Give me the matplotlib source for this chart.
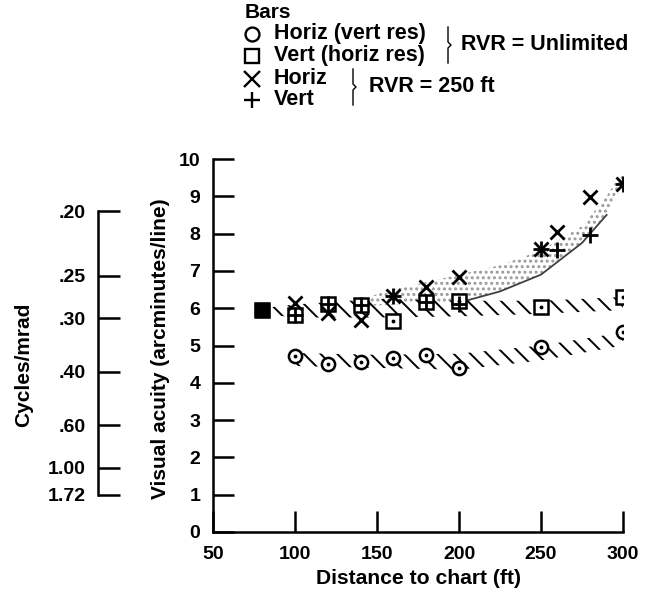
import matplotlib
matplotlib.use('Agg')
import matplotlib.pyplot as plt
from matplotlib.lines import Line2D

plt.rcParams['font.family'] = ['Liberation Sans', 'DejaVu Sans']
plt.rcParams['font.weight'] = 'bold'
plt.rcParams['hatch.linewidth'] = 1.4

# circles: Horiz bars (vert res), RVR unlimited
circ_x = [100, 120, 140, 160, 180, 200, 250, 300]
circ_y = [4.73, 4.50, 4.55, 4.66, 4.75, 4.41, 4.97, 5.37]

# squares: Vert bars (horiz res), RVR unlimited
sq_x = [80, 100, 120, 140, 160, 180, 200, 250, 300]
sq_y = [5.95, 5.82, 6.11, 6.09, 5.67, 6.17, 6.20, 6.04, 6.29]

# x: Horiz, RVR 250 ft
hor_x = [100, 120, 140, 160, 180, 200, 250, 260, 280, 300]
hor_y = [6.15, 5.88, 5.68, 6.33, 6.56, 6.84, 7.60, 8.03, 8.98, 9.34]

# +: Vert, RVR 250 ft
ver_x = [100, 120, 140, 160, 180, 200, 250, 260, 280, 300]
ver_y = [5.82, 6.11, 6.09, 6.33, 6.17, 6.10, 7.60, 7.55, 7.96, 9.34]

# hatched band round the squares
band1_x = [80, 100, 150, 200, 250, 300]
band1_top = [6.0, 6.1, 6.25, 6.2, 6.2, 6.3]
band1_bot = [5.85, 5.75, 5.75, 5.78, 5.85, 5.95]

# hatched band round the circles
band2_x = [100, 150, 200, 250, 300]
band2_top = [4.8, 4.75, 4.78, 5.0, 5.35]
band2_bot = [4.45, 4.4, 4.35, 4.6, 5.0]

# stippled band for RVR = 250 ft
st_x = [140, 160, 180, 200, 225, 250, 275, 290, 300]
st_top = [6.25, 6.5, 6.7, 6.9, 7.15, 7.55, 8.2, 9.0, 9.7]
st_bot = [6.05, 6.1, 6.12, 6.15, 6.45, 6.9, 7.75, 8.5, 9.3]

# second scale
cyc = [0.20, 0.25, 0.30, 0.40, 0.60, 1.00, 1.72]
cyc_lab = ['.20', '.25', '.30', '.40', '.60', '1.00', '1.72']

W, H = 648, 592
fig = plt.figure(figsize=(6.48, 5.92), dpi=100)
ax = fig.add_axes([213 / W, 60 / H, 410 / W, 373 / H])
ax.patch.set_alpha(0)

# bands
ax.fill_between(st_x, st_bot, st_top, facecolor='none', edgecolor='0.6',
                hatch='...', linewidth=0, zorder=1)
ax.plot(st_x[3:8], st_bot[3:8], color='0.25', lw=1.3, zorder=1)
ax.fill_between(band1_x, band1_bot, band1_top, facecolor='none', edgecolor='black',
                hatch='\\\\', linewidth=0, zorder=1)
ax.fill_between(band2_x, band2_bot, band2_top, facecolor='none', edgecolor='black',
                hatch='\\\\', linewidth=0, zorder=1)

ms = 9.5
ax.plot(circ_x, circ_y, 'o', ms=ms, mfc='white', mec='black', mew=1.8, zorder=3)
ax.plot(circ_x, circ_y, '.', ms=3.5, color='black', zorder=4)
ax.plot(sq_x, sq_y, 's', ms=ms, mfc='white', mec='black', mew=1.8, zorder=3)
ax.plot(sq_x, sq_y, '.', ms=3.5, color='black', zorder=4)
ax.plot(sq_x[:1], sq_y[:1], 's', ms=ms, mfc='black', mec='black', zorder=5)
ax.plot(hor_x, hor_y, 'x', ms=10, mec='black', mew=2, zorder=5)
ax.plot(ver_x, ver_y, '+', ms=11, mec='black', mew=2, zorder=5)

ax.set_xlim(50, 300)
ax.set_ylim(0, 10)
ax.set_xticks([50, 100, 150, 200, 250, 300])
ax.set_yticks(range(0, 11))
ax.spines['top'].set_visible(False)
ax.spines['right'].set_visible(False)
for s in ['left', 'bottom']:
    ax.spines[s].set_linewidth(1.8)
ax.tick_params(direction='in', length=15, width=1.8, labelsize=14, pad=9)
ax.tick_params(axis='x', pad=10)

fig.text(418 / W, 1 - 578 / H, 'Distance to chart (ft)', ha='center', va='center', fontsize=15.2)
fig.text(160 / W, 1 - 349 / H, 'Visual acuity (arcminutes/line)', rotation=90,
         ha='center', va='center', fontsize=15)

# cycles/mrad scale (1 line = half cycle; 1 mrad = 3.438 arcmin)
ax2 = fig.add_axes([98 / W, 60 / H, 20 / W, 373 / H])
ax2.patch.set_alpha(0)
ax2.set_ylim(0, 10)
pos = [1.719 / c for c in cyc]
ax2.set_yticks(pos)
ax2.set_yticklabels(cyc_lab)
ax2.set_xticks([])
for s in ['top', 'right', 'bottom']:
    ax2.spines[s].set_visible(False)
ax2.spines['left'].set_bounds(min(pos), max(pos))
ax2.spines['left'].set_linewidth(1.8)
ax2.tick_params(axis='y', direction='in', length=16, width=1.8, labelsize=14, pad=9)
fig.text(24 / W, 1 - 365 / H, 'Cycles/mrad', rotation=90, ha='center', va='center', fontsize=15)

# legend block
fs = 15.5
fig.text(245 / W, 1 - 13 / H, 'Bars', ha='left', va='center', fontsize=15)
keys = [('o', 'Horiz (vert res)', 34), ('s', 'Vert (horiz res)', 56),
        ('x', 'Horiz', 79), ('+', 'Vert', 100)]
for m, lab, yy in keys:
    fig.add_artist(Line2D([252 / W], [1 - yy / H], marker=m, ms=10 if m in 'os' else 11,
                          mfc='none', mec='black', mew=1.7, transform=fig.transFigure))
    fig.text(274 / W, 1 - yy / H, lab, ha='left', va='center', fontsize=fs)


def brace(x, y0, y1):
    ym = (y0 + y1) / 2
    xs = [x, x, x + 3, x, x]
    ys = [y0, ym - 3, ym, ym + 3, y1]
    fig.add_artist(Line2D([v / W for v in xs], [1 - v / H for v in ys], color='black',
                          lw=1.0, transform=fig.transFigure))


brace(448, 27, 63)
fig.text(461 / W, 1 - 45 / H, 'RVR = Unlimited', ha='left', va='center', fontsize=fs)
brace(353, 69, 105)
fig.text(369 / W, 1 - 87 / H, 'RVR = 250 ft', ha='left', va='center', fontsize=fs)

fig.savefig('out.png', dpi=100)
